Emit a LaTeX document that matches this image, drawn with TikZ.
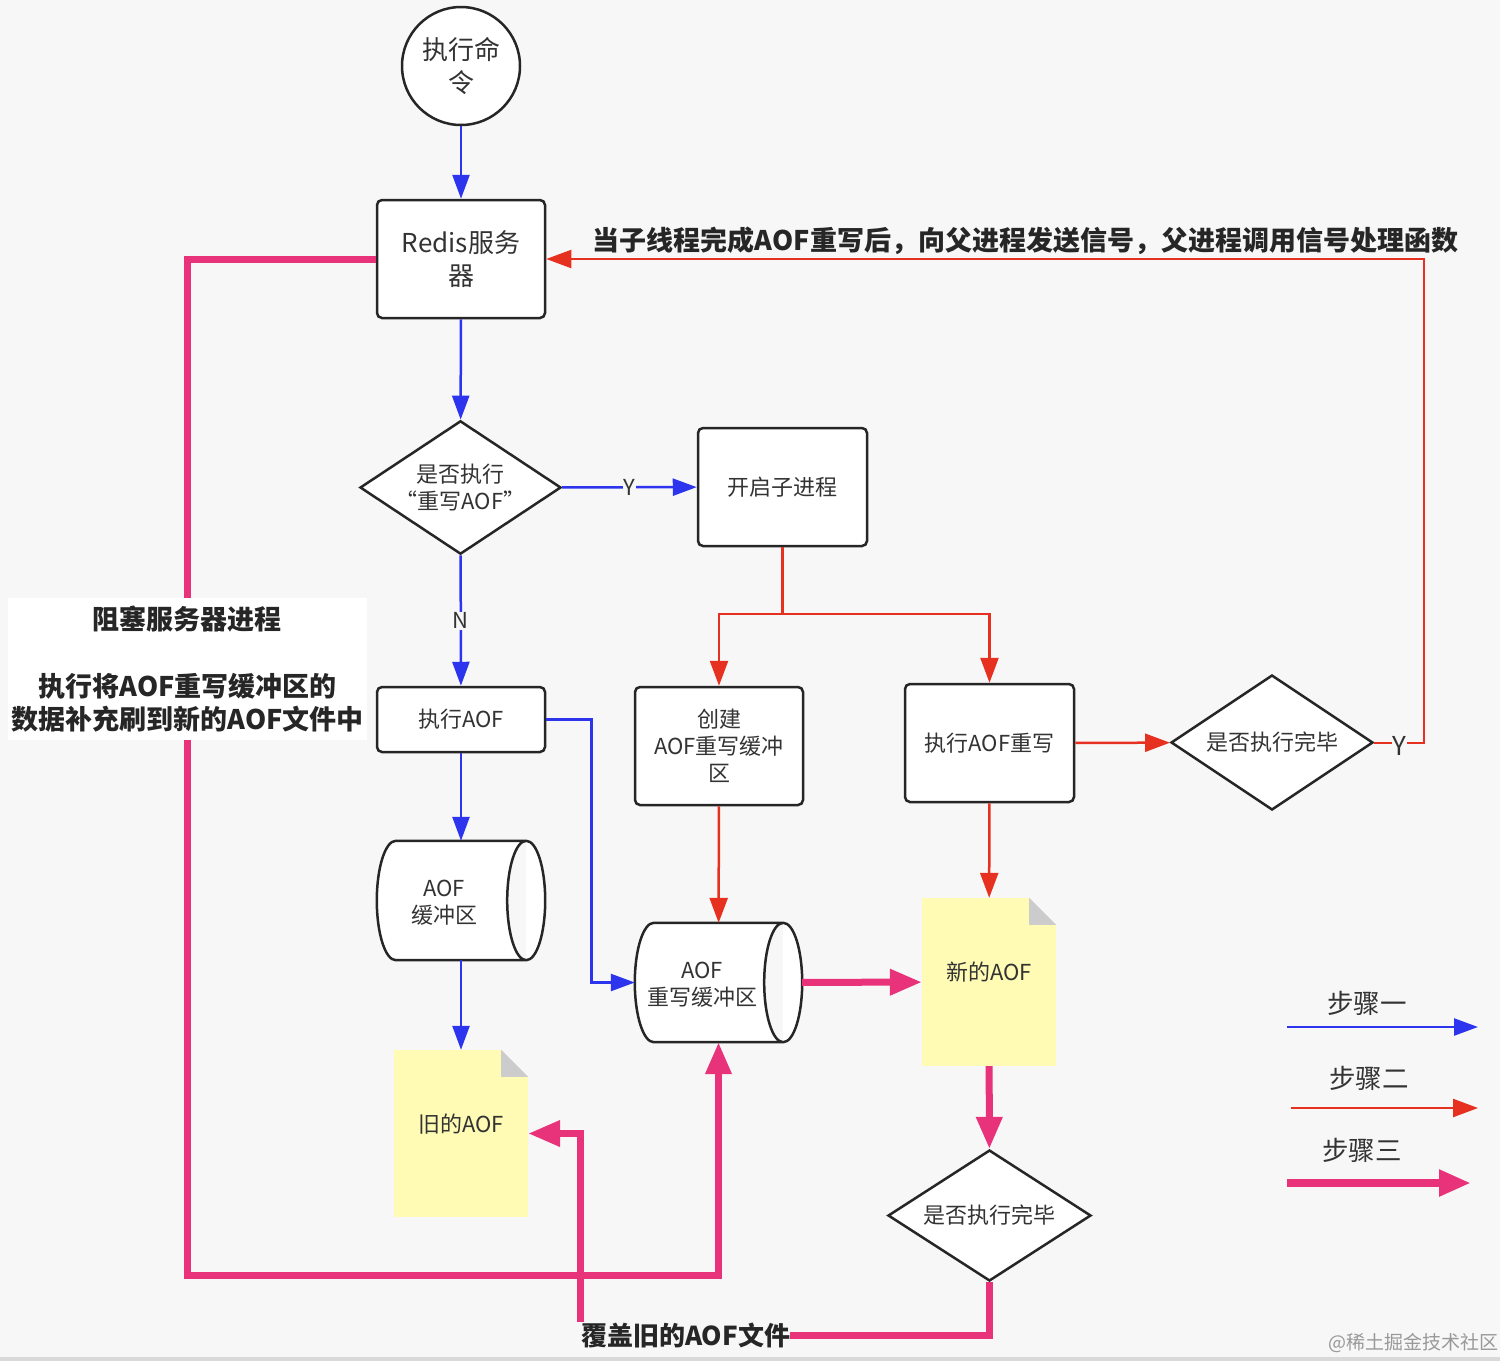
\documentclass[tikz,border=0pt]{standalone}
\usepackage{fontspec}
\setmainfont{Noto Sans CJK SC}
\usetikzlibrary{shapes.geometric,arrows.meta,calc,backgrounds}
\definecolor{bg}{RGB}{247,247,248}
\definecolor{stepblue}{RGB}{45,52,238}
\definecolor{stepred}{RGB}{230,48,32}
\definecolor{steppink}{RGB}{232,50,122}
\definecolor{noteyellow}{RGB}{255,251,180}
\definecolor{cornergray}{RGB}{204,204,204}
\definecolor{edge}{RGB}{38,38,38}
\definecolor{txt}{RGB}{51,51,51}
\newcommand\drawdrum[1]{%
  \draw[draw=edge, line width=2.5pt, fill=white]
    let \p1=(#1.north west), \p2=(#1.south east), \n1={(\y1-\y2)/2} in
    (\x1+19pt,\y1) -- (\x2-19pt,\y1)
    arc[start angle=90, end angle=-90, x radius=19pt, y radius=\n1*1pt]
    -- (\x1+19pt,\y2)
    arc[start angle=-90, end angle=-270, x radius=19pt, y radius=\n1*1pt]
    -- cycle
    (\x2-19pt,\y1) arc[start angle=90, end angle=270, x radius=19pt, y radius=\n1*1pt];}
\newcommand\drawcorner[1]{%
  \fill[bg] (#1.north east) -- ++(-27,0) -- ++(27,27) -- cycle;
  \fill[cornergray] ($(#1.north east)+(-27,0)$) -- ++(27,27) -- ++(-27,0) -- cycle;}
\begin{document}
\begin{tikzpicture}[x=1pt,y=-1pt,
  every node/.style={text=txt},
  nfont/.style={font=\fontsize{22}{27}\selectfont},
  bigfont/.style={font=\fontsize{26}{33}\selectfont},
  boldlbl/.style={text=black!85, font=\fontsize{27}{33.5}\selectfont\bfseries},
  legfont/.style={font=\fontsize{26.5}{30}\selectfont},
  procbox/.style={draw=edge, line width=2.5pt, fill=white, rounded corners=5pt, inner sep=0pt, align=center, nfont},
  decision/.style={diamond, shape aspect=1.5, draw=edge, line width=2.5pt, fill=white, inner sep=0pt, align=center, nfont},
  notebox/.style={fill=noteyellow, inner sep=0pt},
  drumbox/.style={inner sep=0pt},
  lbl/.style={fill=bg, inner sep=1pt, nfont},
  flowA/.style={draw=stepblue, line width=2.5pt, -{Triangle[length=24pt,width=17pt]}},
  flowB/.style={draw=stepred, line width=2.5pt, -{Triangle[length=25pt,width=18pt]}},
  flowC/.style={draw=steppink, line width=7pt, -{Triangle[length=32pt,width=25pt]}},
  lineC/.style={draw=steppink, line width=7pt},
  lineB/.style={draw=stepred, line width=2.5pt}
]
\useasboundingbox (0,0) rectangle (1500,1361);
\begin{pgfonlayer}{background}
  \fill[bg] (0,0) rectangle (1500,1361);
  \fill[black!15] (0,1357) rectangle (1500,1361);
\end{pgfonlayer}

% nodes
\node[circle, draw=edge, line width=2.5pt, fill=white, minimum size=118pt, inner sep=0pt, align=center, bigfont] (start) at (461,66) {\raisebox{-3pt}{执行命}\\\raisebox{-3pt}{令}};
\node[procbox, bigfont, minimum width=168pt, minimum height=118pt] (redis) at (461,259) {\raisebox{-3pt}{Redis服务}\\\raisebox{-3pt}{器}};
\node[decision, minimum width=201pt, minimum height=133pt] (d1) at (460.5,487.5) {是否执行\\“重写AOF”};
\node[procbox, minimum width=169pt, minimum height=118pt] (fork) at (782.5,487) {开启子进程};
\node[procbox, minimum width=168pt, minimum height=65pt] (exec) at (461,719.5) {执行AOF};
\node[procbox, minimum width=168pt, minimum height=118pt] (create) at (719,746) {创建\\AOF重写缓冲\\区};
\node[procbox, minimum width=169pt, minimum height=118pt] (rewrite) at (989.5,743) {执行AOF重写};
\node[decision, minimum width=202pt, minimum height=135pt] (d2) at (1272,742.5) {是否执行完毕};
\node[drumbox, minimum width=168pt, minimum height=119pt] (buf) at (461,900.5) {};
\node[drumbox, minimum width=167pt, minimum height=119pt] (rbuf) at (718.5,982.5) {};
\begin{pgfonlayer}{background}
  \drawdrum{buf}
  \drawdrum{rbuf}
\end{pgfonlayer}
\node[nfont, align=center] (buft) at (444,903) {AOF\\缓冲区};
\node[nfont, align=center] (rbuft) at (702,985) {AOF\\重写缓冲区};
\node[notebox, minimum width=134pt, minimum height=167pt] (old) at (461,1133.5) {};
\drawcorner{old}
\node[nfont] (oldt) at (461,1124) {旧的AOF};
\node[notebox, minimum width=134pt, minimum height=168pt] (new) at (989,982) {};
\drawcorner{new}
\node[nfont] (newt) at (989,972) {新的AOF};
\node[decision, minimum width=203pt, minimum height=131pt] (d3) at (989.5,1215.5) {是否执行完毕};

% step 1 (blue)
\draw[flowA] (start) -- (redis);
\draw[flowA] (redis) -- (d1);
\draw[flowA] (d1) -- node[lbl] (ylbl) {Y} (fork);
\draw[flowA] (d1) -- node[lbl] (nlbl) {N} (exec);
\draw[flowA] (exec) -- (buf);
\draw[flowA] (buf) -- (old);
\draw[flowA] (exec.east) -- ++(45,0) |- (rbuf.west);

% step 2 (red)
\coordinate (split) at (782.5,614);
\draw[lineB] (fork.south) -- (split);
\draw[flowB] (split) -| (create.north);
\draw[flowB] (split) -| (rewrite.north);
\draw[flowB] (create) -- (rbuf);
\draw[flowB] (rewrite) -- (d2);
\draw[flowB] (rewrite) -- (new);
\draw[flowB, line width=2pt] (d2.east) -- node[lbl, bigfont, inner sep=0.5pt, yshift=-3pt] (y2lbl) {Y} ++(50,0) |- (redis.east);
\node[boldlbl] (sig) at (1025.5,241) {当子线程完成AOF重写后，向父进程发送信号，父进程调用信号处理函数};

% step 3 (pink)
\coordinate (blkcorner) at (187,1275);
\draw[flowC] (redis.west) -| (blkcorner) -| (rbuf.south);
\node[fill=white, minimum width=351pt, minimum height=142pt, align=center, boldlbl] (blk) at (187.5,669) {阻塞服务器进程\\[33.5pt]执行将AOF重写缓冲区的\\数据补充刷到新的AOF文件中};
\draw[flowC] (rbuf) -- (new);
\draw[flowC] (new) -- (d3);
\node[boldlbl, font=\fontsize{26}{30}\selectfont\bfseries, inner sep=0pt] (cover) at (685.5,1335) {覆盖旧的AOF文件};
\draw[lineC] (d3.south) |- (cover.east);
\draw[flowC] (cover.north west) |- (old.east);

% legend
\node[legfont] (leg1) at (1367,1003) {步骤一};
\coordinate (l1a) at (1287,1027); \coordinate (l1b) at (1478,1027);
\draw[flowA] (l1a) -- (l1b);
\node[legfont] (leg2) at (1369,1078) {步骤二};
\coordinate (l2a) at (1291,1108); \coordinate (l2b) at (1478,1108);
\draw[flowB] (l2a) -- (l2b);
\node[legfont] (leg3) at (1362,1150) {步骤三};
\coordinate (l3a) at (1287,1183); \coordinate (l3b) at (1471,1183);
\draw[flowC, line width=8pt] (l3a) -- (l3b);

\node[text=black!40, font=\fontsize{19}{19}\selectfont] (wm) at (1413,1343) {@稀土掘金技术社区};
\end{tikzpicture}
\end{document}
